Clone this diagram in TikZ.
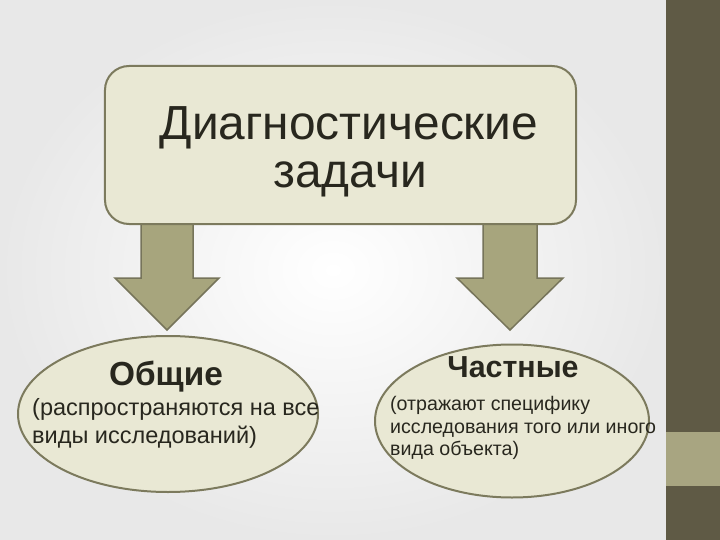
\documentclass[tikz,border=0pt]{standalone}
\usepackage{fontspec}
\setmainfont{Liberation Sans}
\usetikzlibrary{shapes.geometric,positioning}
\definecolor{boxfill}{HTML}{E9E8D4}
\definecolor{boxline}{HTML}{7C7A5D}
\definecolor{arrowfill}{HTML}{A7A57D}
\definecolor{arrowline}{HTML}{76745A}
\definecolor{stripdark}{HTML}{5F5A45}
\definecolor{striplight}{HTML}{A8A581}
\definecolor{textdark}{HTML}{28271E}
\tikzset{
task box/.style={draw=boxline,fill=boxfill,line width=2bp,rounded corners=24bp,
    minimum width=471bp,minimum height=158bp,inner sep=0pt},
kind/.style={ellipse,draw=boxline,fill=boxfill,line width=2bp,inner sep=0pt},
down arrow/.style={draw=arrowline,fill=arrowfill,line width=1.5bp,line join=miter},
title line/.style={anchor=base,font=\fontsize{48}{52}\selectfont},
kind name/.style={anchor=base,font=\bfseries\fontsize{#1}{#1}\selectfont},
kind line/.style={anchor=base west,font=\fontsize{#1}{#1}\selectfont},
}
\tikzstyle{every node}=[text=textdark,inner sep=0pt]

\begin{document}
\begin{tikzpicture}[x=1bp,y=-1bp]
    \useasboundingbox (0,0) rectangle (720,540);

    % slide background
    \shade[inner color=white,outer color=black!9] (0,0) rectangle (666,540);
    \fill[stripdark] (666,0) rectangle (720,540);
    \fill[striplight] (666,432) rectangle (720,486);

    % block arrows
    \foreach \x/\w in {167/26,510/27}
        \draw[down arrow] (\x-\w,222) -- (\x-\w,278) -- (\x-\w-26,278) -- (\x,330)
            -- (\x+\w+26,278) -- (\x+\w,278) -- (\x+\w,222) -- cycle;

    % main task
    \node[task box] (task) at (340.5,145) {};
    \node[title line] (title1) at (349,140) {Диагностические};
    \node[title line] (title2) at (350,188) {задачи};

    % general tasks
    \node[kind,minimum width=300bp,minimum height=156bp] (general) at (168,414) {};
    \node[kind name=33.5] (generalname) at (166,385) {Общие};
    \node[kind line=23.6] (generaltext1) at (32,415) {(распространяются на все};
    \node[kind line=23.6] (generaltext2) at (32,443) {виды исследований)};

    % special tasks
    \node[kind,minimum width=274bp,minimum height=153bp] (special) at (512,421) {};
    \node[kind name=30.5] (specialname) at (513,377) {Частные};
    \node[kind line=19.7] (specialtext1) at (390,410) {(отражают специфику};
    \node[kind line=19.7] (specialtext2) at (390,433) {исследования того или иного};
    \node[kind line=19.7] (specialtext3) at (390,455) {вида объекта)};
\end{tikzpicture}
\end{document}
